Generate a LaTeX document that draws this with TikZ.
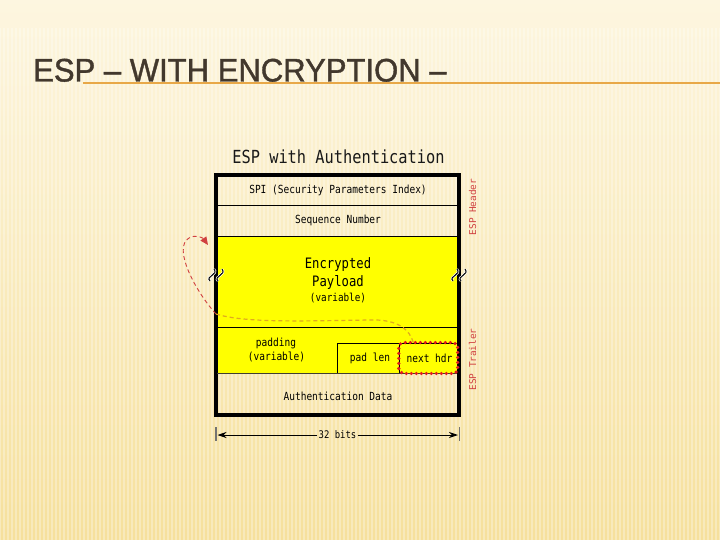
\documentclass[tikz,border=0pt]{standalone}
\usepackage{fontspec}
\setmainfont{Liberation Sans}
\newfontfamily\monofont{DejaVu Sans Mono}
\newfontfamily\titlefont[FakeBold=1.2]{Liberation Sans}
\usetikzlibrary{arrows.meta}
\definecolor{bgtop}{RGB}{253,246,224}
\definecolor{bgbot}{RGB}{246,224,156}
\definecolor{titlecol}{RGB}{66,56,45}
\definecolor{rulecol}{RGB}{232,168,72}
\definecolor{espred}{RGB}{208,64,64}
\definecolor{dotred}{RGB}{226,30,30}
\definecolor{curveyel}{RGB}{224,170,30}
\definecolor{cellyel}{RGB}{255,255,0}
\newcommand\tallt[1]{\scalebox{0.97}[1.14]{#1}}
\tikzset{
  cell/.style={draw=black, line width=0.9pt, inner sep=0pt, minimum width=239.5pt},
  celltext/.style={font=\monofont\fontsize{9.8}{11}\selectfont, inner sep=0pt, text=black},
  sidelabel/.style={font=\monofont\fontsize{9.4}{11}\selectfont, text=espred, rotate=90, inner sep=0pt},
  tickline/.style={draw=black!55, line width=1.3pt},
  breakhalo/.style={white, line width=2.4pt},
  breakline/.style={black, line width=1pt},
}
\begin{document}
\begin{tikzpicture}[x=1pt,y=-1pt]
\useasboundingbox (0,0) rectangle (720,540);
% background
\shade[top color=bgtop, bottom color=bgbot] (0,0) rectangle (720,540);
\foreach \i in {0,4,...,720} {
  \draw[white, opacity=0.3, line width=1.3pt] (\i,28) -- (\i,540);
}
% title
\node[anchor=base west, inner sep=0pt, text=titlecol, font=\titlefont\fontsize{32}{32}\selectfont] (title) at (33,81.5) {\scalebox{0.97}[1.02]{ESP – WITH ENCRYPTION –}};
\coordinate (rulea) at (83,83);
\coordinate (ruleb) at (720,83);
\draw[rulecol, line width=1.8pt] (rulea) -- (ruleb);

% diagram heading
\node[font=\monofont\fontsize{15.8}{18}\selectfont, inner sep=0pt, text=black!90] (head) at (338.5,157) {\tallt{ESP with Authentication}};

% cells
\node[cell, minimum height=28.5pt] (spi) at (337.25,190.75) {};
\node[cell, minimum height=31.5pt] (seq) at (337.25,220.75) {};
\node[cell, minimum height=90.5pt, fill=cellyel] (payload) at (337.25,281.75) {};
\node[cell, minimum height=46pt, fill=cellyel] (padrow) at (337.25,350) {};
\node[cell, minimum height=40.5pt] (auth) at (337.25,393.25) {};
\node[cell, minimum width=61.5pt, minimum height=30pt, fill=cellyel] (padlen) at (368.5,358) {};
\node[cell, minimum width=58pt, minimum height=30pt, fill=cellyel] (nexthdr) at (428.25,358) {};
\draw[black!70!olive, line width=1.6pt] (padrow.south west) -- (padrow.south east);

% texts
\node[celltext] (tspi) at (338,190) {\tallt{SPI (Security Parameters Index)}};
\node[celltext] (tseq) at (338,220.5) {\tallt{Sequence Number}};
\node[celltext, font=\monofont\fontsize{12.6}{14}\selectfont] (tenc) at (338,265) {\tallt{Encrypted}};
\node[celltext, font=\monofont\fontsize{12.6}{14}\selectfont] (tpay) at (338,282.5) {\tallt{Payload}};
\node[celltext, font=\monofont\fontsize{9.6}{11}\selectfont] (tvar) at (338,298) {\tallt{(variable)}};
\node[celltext] (tpad) at (276,343) {\tallt{padding}};
\node[celltext] (tpadv) at (276.5,356.5) {\tallt{(variable)}};
\node[celltext] (tpadlen) at (370,358) {\tallt{pad len}};
\node[celltext] (tnext) at (429.5,358) {\tallt{next hdr}};
\node[celltext] (tauth) at (338,396) {\tallt{Authentication Data}};

% outer frame
\node[draw=black, line width=3.8pt, minimum width=243.5pt, minimum height=241pt, inner sep=0pt] (frame) at (337.25,295) {};

% break marks
\foreach \bx in {216,459} {
  \foreach \dx in {-4,4} {
    \draw[breakhalo] (\bx+\dx-2,281) .. controls (\bx+\dx-7,276) and (\bx+\dx+7,275) .. (\bx+\dx+2,269);
  }
  \foreach \dx in {-4,4} {
    \draw[breakline] (\bx+\dx-2,281) .. controls (\bx+\dx-7,276) and (\bx+\dx+7,275) .. (\bx+\dx+2,269);
  }
}

% side labels
\node[sidelabel] (hdrlab) at (472.5,207) {ESP Header};
\node[sidelabel] (traillab) at (472.5,359.5) {ESP Trailer};

% red dotted box around next hdr
\draw[dotred, line width=3.6pt, dash pattern=on 0pt off 5pt, line cap=round, rounded corners=5pt]
  ([xshift=0pt,yshift=0pt]nexthdr.south west) rectangle ([xshift=0pt,yshift=0pt]nexthdr.north east);

% curves
\coordinate (cstart) at (216,314);
\coordinate (cend) at ([xshift=-15pt]nexthdr.north);
\coordinate (atip) at (208,245);
\draw[curveyel, line width=1.2pt, dash pattern=on 4pt off 3pt]
  (cstart) .. controls (245,323) and (300,321) .. (370,320) .. controls (398,319) and (410,330) .. (cend);
\draw[espred, line width=0.9pt, dash pattern=on 4pt off 3pt, -{Triangle[length=8pt,width=7pt]}]
  (cstart) .. controls (196,292) and (172,248) .. (189,238) .. controls (196,234) and (203,238) .. (atip);

% dimension
\coordinate (t1a) at (216,427);
\coordinate (t1b) at (216,441);
\coordinate (t2a) at (459.5,427);
\coordinate (t2b) at (459.5,441);
\draw[tickline] (t1a) -- (t1b);
\draw[tickline] (t2a) -- (t2b);
\coordinate (dl) at (217.5,435);
\coordinate (dr) at (458,435);
\node[celltext, font=\monofont\fontsize{9.2}{11}\selectfont, inner xsep=1pt] (bits) at (337.5,435) {\tallt{32 bits}};
\draw[black, line width=0.9pt, -{Stealth[length=9pt,width=6pt]}] (bits.west) -- (dl);
\draw[black, line width=0.9pt, -{Stealth[length=9pt,width=6pt]}] (bits.east) -- (dr);
\end{tikzpicture}
\end{document}
